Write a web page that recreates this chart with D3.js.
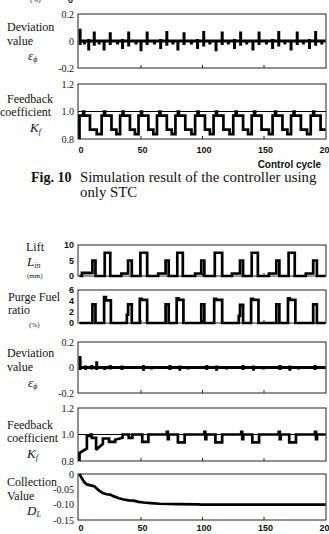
<!DOCTYPE html>
<html><head><meta charset="utf-8">
<script src="https://cdn.jsdelivr.net/npm/d3@7"></script>
<style>body{margin:0;background:#fff;}svg{display:block;}</style>
</head><body>
<script>
// ---------------- data ----------------
const xTicks = [0, 50, 100, 150, 200];
const devTicks = ["0.2", "0", "-0.2"];
const kfTicks = ["1.2", "1.0", "0.8"];
const liftTicks = ["10", "5", "0"];
const purgeTicks = ["6", "4", "2", "0"];
const collTicks = ["0", "-0.05", "-0.10", "-0.15"];

// Fig.10 (STC only) deviation spikes: [cycle, high, low]
const devTopSpikes = [
  [0.5, 0.09, -0.03], [4, 0.0, -0.025], [7.5, 0.015, -0.07], [12, 0.07, -0.035],
  [16, 0.0, -0.025], [20, 0.01, -0.07], [25, 0.065, -0.03],
  [31, 0.0, -0.025], [35, 0.015, -0.06], [40, 0.07, -0.04],
  [46, 0.0, -0.025], [50, 0.01, -0.075], [55, 0.07, -0.03],
  [61, 0.0, -0.025], [66, 0.015, -0.06], [71, 0.075, -0.035],
  [76, 0.0, -0.025], [80, 0.01, -0.07], [85, 0.065, -0.03],
  [91, 0.0, -0.025], [96, 0.015, -0.06], [101, 0.075, -0.04],
  [106, 0.0, -0.025], [111, 0.01, -0.075], [116, 0.07, -0.03],
  [121, 0.0, -0.025], [126, 0.015, -0.06], [131, 0.07, -0.035],
  [136, 0.0, -0.025], [141, 0.01, -0.07], [146, 0.07, -0.03],
  [152, 0.0, -0.025], [157, 0.015, -0.06], [162, 0.075, -0.04],
  [167, 0.0, -0.025], [172, 0.01, -0.07], [177, 0.07, -0.03],
  [182, 0.0, -0.025], [187, 0.015, -0.06], [192, 0.075, -0.035],
  [197, 0.0, -0.025]
];
// Fig.10 feedback coefficient: rise / bump / fall / dip times
const kfTopRise = [0, 18, 33, 48, 63, 78, 94, 109, 125, 140, 157, 172, 188];
const kfTopBump = [3, 20, 35, 50, 65, 80, 96, 111, 127, 142, 159, 174, 190];
const kfTopFall = [8.5, 26, 41, 56, 71, 86, 102, 117, 133, 148, 165, 180, 196];
const kfTopDip  = [14, 30, 45, 60, 75, 91, 106, 122, 137, 154, 169, 185, null];
const kfTopLevels = { high: 0.97, bump: 1.0, low: 0.868, dip: 0.835, start: 0.84 };

// Fig.11 lift
const liftLowStart   = [2, 34, 64, 94, 124, 154, 184];
const liftLowLevel   = [1.0, 0.8, 0.8, 0.8, 0.8, 0.8, 0.8];
const liftBlackStart = [10.5, 39.5, 70, 99, 130.5, 160, 190];
const liftBlackEnd   = [13, 42.5, 72.5, 101.5, 133, 162.5, 193];
const liftBlackLevel = [5.0, 5.0, 5.0, 5.0, 5.0, 5.0, 5.0];
const liftOpenStart  = [20.5, 49.5, 79.5, 110, 140, 170];
const liftOpenEnd    = [25, 55, 84, 116, 145, 175];
const liftOpenLevel  = [7.5, 7.5, 7.5, 7.5, 7.5, 7.5];
const liftGrayStart  = [3, 34.5, 65, 95, 125, 155, 185];
const liftGrayEnd    = [10, 39, 69.5, 98.5, 130, 159.5, 189.5];
const liftGrayLevel  = [0.6, 0.5, 0.5, 0.5, 0.5, 0.5, 0.5];

// Fig.11 purge fuel ratio
const purgeBlackStart = [10.5, 39.5, 70, 99, 130.5, 160, 190];
const purgeBlackEnd   = [13, 42.5, 72.5, 101.5, 133, 162.5, 193];
const purgeBlackLevel = [3.4, 3.4, 3.4, 3.4, 3.3, 3.4, 3.4];
const purgePreStart   = [null, 38.5, null, null, 129.5, null, null];
const purgePreLevel   = [0, 1.5, 0, 0, 1.3, 0, 0];
const purgeOpenStart  = [20, 49, 79, 109.5, 139.5, 169.5];
const purgeOpenMid    = [21.5, 50.5, 80.5, 111, 141, 171];
const purgeOpenEnd    = [25.5, 55, 84.5, 116, 145.5, 175.5];
const purgeOpenHigh   = [4.7, 4.4, 4.5, 4.4, 4.4, 4.5];
const purgeOpenLow    = [4.1, 4.2, 4.2, 4.2, 4.2, 4.2];

// Fig.11 deviation spikes: [cycle, high, low]
const devBotSpikes = [
  [0.5, 0.09, -0.02], [5, 0.015, -0.02], [10, 0.02, -0.015], [14, 0.05, -0.02],
  [20.5, 0.01, -0.02], [25, 0.02, -0.015], [34.5, 0.015, -0.02],
  [52, 0.02, -0.025], [58.5, 0.01, -0.015], [73.5, 0.02, -0.02],
  [81.5, 0.015, -0.025], [88.5, 0.01, -0.015], [103.5, 0.02, -0.02],
  [111.5, 0.015, -0.025], [119.5, 0.01, -0.015], [133, 0.02, -0.02],
  [141.5, 0.015, -0.025], [149.5, 0.01, -0.015], [163, 0.02, -0.02],
  [171, 0.015, -0.025], [178, 0.01, -0.015], [191.5, 0.02, -0.02]
];

// Fig.11 feedback coefficient [cycle, Kf]
const kfBot = [
  [0, 0.80], [0, 0.86], [6, 0.895], [6, 0.99], [9, 0.99], [9, 1.0], [10, 1.0], [10, 0.975],
  [13.5, 0.975], [13.5, 0.885], [19, 0.93], [19, 0.97], [24, 0.97], [24, 0.945],
  [29, 0.945], [29, 0.96], [35, 0.975], [35, 1.0], [40, 1.0], [40, 0.975], [43, 0.975],
  [43, 1.0], [51, 1.0], [51, 0.945], [56, 0.945], [56, 1.0],
  [71, 1.0], [71, 1.02], [71.8, 1.02], [71.8, 0.965], [72.6, 0.965], [72.6, 1.0],
  [80, 1.0], [80, 0.94], [85.5, 0.94], [85.5, 1.0],
  [101.5, 1.0], [101.5, 1.02], [102.3, 1.02], [102.3, 0.965], [103.1, 0.965], [103.1, 1.0],
  [110.5, 1.0], [110.5, 0.94], [116, 0.94], [116, 1.0],
  [131.5, 1.0], [131.5, 1.02], [132.3, 1.02], [132.3, 0.965], [133.1, 0.965], [133.1, 1.0],
  [140.5, 1.0], [140.5, 0.94], [146, 0.94], [146, 1.0],
  [162, 1.0], [162, 1.02], [162.8, 1.02], [162.8, 0.965], [163.6, 0.965], [163.6, 1.0],
  [170.5, 1.0], [170.5, 0.94], [176, 0.94], [176, 1.0],
  [191.5, 1.0], [191.5, 1.02], [192.3, 1.02], [192.3, 0.965], [193.1, 0.965], [193.1, 1.0],
  [200, 1.0]
];

// Fig.11 collection value D_L [cycle, value]
const collection = [
  [0, 0], [2, -0.015], [4, -0.027], [6, -0.034], [9, -0.037], [12, -0.04], [14, -0.047],
  [16, -0.054], [19, -0.062], [22, -0.066], [25, -0.067], [28, -0.073], [32, -0.079],
  [36, -0.083], [40, -0.086], [44, -0.087], [48, -0.091], [52, -0.093], [58, -0.095],
  [65, -0.097], [80, -0.098], [97, -0.099], [98, -0.1], [200, -0.1]
];

// ---------------- drawing ----------------
const svg = d3.select("body").append("svg").attr("width", 329).attr("height", 534);
const x = d3.scaleLinear().domain([0, 200]).range([79.5, 325.5]);
const SERIF = "'Liberation Serif','Times New Roman',serif";
const SANS = "'Liberation Sans',Arial,sans-serif";
const LW = 2.7;

function panel(domain, top, bottom) {
  const y = d3.scaleLinear().domain(domain).range([bottom, top]);
  const g = svg.append("g");
  g.append("rect").attr("x", 78).attr("y", top).attr("width", 248).attr("height", bottom - top)
    .attr("fill", "none").attr("stroke", "#222").attr("stroke-width", 1);
  g.selectAll("line.tk").data(xTicks.slice(1, 4)).enter().append("line")
    .attr("x1", d => x(d)).attr("x2", d => x(d)).attr("y1", bottom).attr("y2", bottom - 3)
    .attr("stroke", "#222").attr("stroke-width", 1);
  return y;
}
function drawLine(y, pts, color, w) {
  svg.append("path").datum(pts)
    .attr("d", d3.line().x(d => x(d[0])).y(d => y(d[1])))
    .attr("fill", "none").attr("stroke", color || "#000").attr("stroke-width", w || LW)
    .attr("stroke-linejoin", "miter").attr("stroke-miterlimit", 2);
}
function refLine(y, v) {
  svg.append("line").attr("x1", 78).attr("x2", 326).attr("y1", y(v)).attr("y2", y(v))
    .attr("stroke", "#000").attr("stroke-width", 1.2);
}
function spikesToPts(sp) {
  const p = [[0, 0]];
  sp.forEach(s => { p.push([s[0], 0], [s[0], s[1]], [s[0], s[2]], [s[0], 0]); });
  p.push([200, 0]);
  return p;
}
function txt(t, xx, yc, opt) {
  opt = opt || {};
  return svg.append("text").attr("x", xx).attr("y", yc).attr("dy", "0.35em")
    .attr("font-family", opt.family || SERIF).attr("font-size", opt.size || 12)
    .attr("font-weight", opt.weight || "normal").attr("font-style", opt.style || "normal")
    .attr("text-anchor", opt.anchor || "start").attr("fill", "#111").text(t);
}
function yTicks(labels, y, values, opt) {
  labels.forEach((l, i) => txt(l, 74, y(values[i]), Object.assign({ anchor: "end", size: 10 }, opt || {})));
}
function xTickLabels(yc) {
  xTicks.forEach(v => txt(String(v), x(v) + 1.5, yc, { family: SANS, weight: "bold", size: 9, anchor: "middle" }));
}
function symbol(main, sub, xx, yc) {
  const t = txt(main, xx, yc, { style: "italic", size: 13 });
  t.append("tspan").attr("font-size", 8).attr("dy", "0.35em").text(sub);
}

// ===== Fig. 10 =====
txt("(%)", 30, 0, { size: 7 });
txt("0", 73, 0, { size: 9, anchor: "end", family: SANS, weight: "bold" });

const yD1 = panel([-0.2, 0.2], 14, 68);
drawLine(yD1, spikesToPts(devTopSpikes), "#000", 3);
yTicks(devTicks, yD1, [0.2, 0, -0.2]);
txt("Deviation", 7, 27);
txt("value", 7, 41);
symbol("ε", "ϕ", 28, 55);

const yK1 = panel([0.8, 1.2], 84, 139);
refLine(yK1, 1.0);
(function () {
  const L = kfTopLevels, p = [[0, 0.8], [0, L.start]];
  kfTopRise.forEach((r, i) => {
    p.push([r, p[p.length - 1][1]], [r, L.high], [kfTopBump[i], L.high], [kfTopBump[i], L.bump],
      [kfTopBump[i] + 0.8, L.bump], [kfTopBump[i] + 0.8, L.high], [kfTopFall[i], L.high], [kfTopFall[i], L.low]);
    if (kfTopDip[i] != null) p.push([kfTopDip[i], L.low], [kfTopDip[i], L.dip]);
  });
  p.push([200, L.low]);
  drawLine(yK1, p);
})();
yTicks(kfTicks, yK1, [1.2, 1.0, 0.8]);
txt("Feedback", 7, 99);
txt("coefficient", 0, 112);
symbol("K", "f", 30, 127);
xTickLabels(150);
txt("Control cycle", 321, 164, { family: SANS, size: 10, weight: "bold", anchor: "end" });

txt("Fig. 10", 31, 177, { size: 14, weight: "bold" });
txt("Simulation result of the controller using", 80, 177, { size: 14.8 });
txt("only STC", 80, 192, { size: 14.8 });

// ===== Fig. 11 =====
const yL = panel([0, 10], 245, 276);
(function () {
  liftGrayStart.forEach((s, i) => {
    const g = [[s, 0], [s, liftGrayLevel[i]], [liftGrayEnd[i], liftGrayLevel[i]], [liftGrayEnd[i], 0]];
    drawLine(yL, g, "#bdbdbd", 2);
  });
  const p = [[0, 0]];
  liftLowStart.forEach((s, i) => {
    p.push([s, 0], [s, liftLowLevel[i]], [liftBlackStart[i], liftLowLevel[i]], [liftBlackStart[i], liftBlackLevel[i]],
      [liftBlackEnd[i], liftBlackLevel[i]], [liftBlackEnd[i], 0]);
    if (i < liftOpenStart.length)
      p.push([liftOpenStart[i], 0], [liftOpenStart[i], liftOpenLevel[i]], [liftOpenEnd[i], liftOpenLevel[i]], [liftOpenEnd[i], 0]);
  });
  p.push([200, 0]);
  drawLine(yL, p);
})();
yTicks(liftTicks, yL, [10, 5, 0], { family: SANS, weight: "bold", size: 9 });
txt("Lift", 26, 247);
symbol("L", "in", 27, 261);
txt("(mm)", 27, 276, { size: 7 });

const yP = panel([0, 6], 290, 323);
(function () {
  const p = [[0, 0]];
  purgeBlackStart.forEach((s, i) => {
    if (purgePreStart[i] != null) p.push([purgePreStart[i], 0], [purgePreStart[i], purgePreLevel[i]], [s, purgePreLevel[i]]);
    else p.push([s, 0]);
    p.push([s, purgeBlackLevel[i]], [purgeBlackEnd[i], purgeBlackLevel[i]], [purgeBlackEnd[i], 0]);
    if (i < purgeOpenStart.length)
      p.push([purgeOpenStart[i], 0], [purgeOpenStart[i], purgeOpenHigh[i]], [purgeOpenMid[i], purgeOpenHigh[i]],
        [purgeOpenMid[i], purgeOpenLow[i]], [purgeOpenEnd[i], purgeOpenLow[i]], [purgeOpenEnd[i], 0]);
  });
  p.push([200, 0]);
  drawLine(yP, p);
})();
yTicks(purgeTicks, yP, [6, 4, 2, 0], { family: SANS, weight: "bold", size: 9 });
txt("Purge Fuel", 8, 297);
txt("ratio", 8, 310);
txt("(%)", 29, 325, { size: 7 });

const yD2 = panel([-0.2, 0.2], 342, 393);
drawLine(yD2, spikesToPts(devBotSpikes), "#000", 3);
yTicks(devTicks, yD2, [0.2, 0, -0.2]);
txt("Deviation", 7, 353);
txt("value", 7, 367);
symbol("ε", "ϕ", 28, 382);

const yK2 = panel([0.8, 1.2], 408, 461);
refLine(yK2, 1.0);
drawLine(yK2, kfBot);
yTicks(kfTicks, yK2, [1.2, 1.0, 0.8]);
txt("Feedback", 7, 425);
txt("coefficient", 7, 438);
symbol("K", "f", 27, 453);

const yC = panel([-0.15, 0], 474, 520);
drawLine(yC, collection);
yTicks(collTicks, yC, [0, -0.05, -0.10, -0.15]);
txt("Collection", 7, 482);
txt("Value", 7, 496);
symbol("D", "L", 27, 510);
xTickLabels(528);
</script>
</body></html>
